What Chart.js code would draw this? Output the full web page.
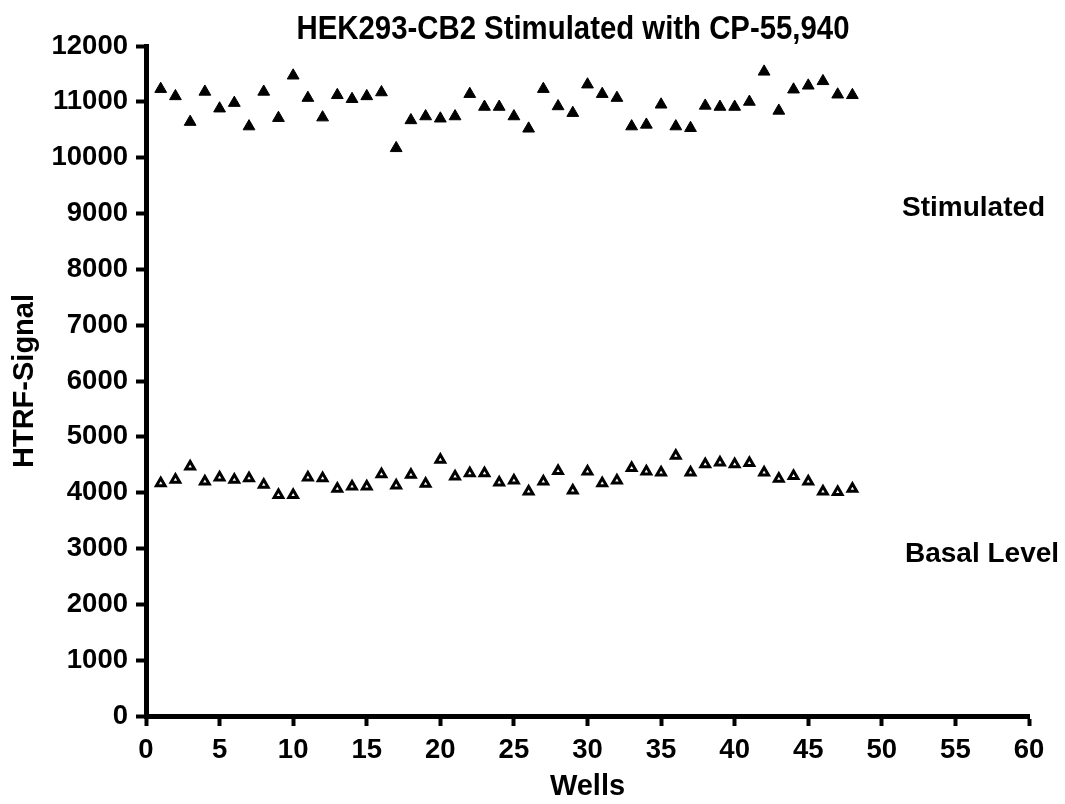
<!DOCTYPE html>
<html>
<head>
<meta charset="utf-8">
<script src="https://cdn.jsdelivr.net/npm/chart.js@4/dist/chart.umd.min.js"></script>
<style>
  html, body { margin: 0; padding: 0; background: #fff; }
</style>
</head>
<body>
<canvas id="chart" width="1065" height="804"></canvas>
<script>
const wells = [1, 2, 3, 4, 5, 6, 7, 8, 9, 10, 11, 12, 13, 14, 15, 16, 17, 18, 19, 20, 21, 22, 23, 24,
  25, 26, 27, 28, 29, 30, 31, 32, 33, 34, 35, 36, 37, 38, 39, 40, 41, 42, 43, 44, 45, 46, 47, 48];
const stimulated = [11230, 11100, 10640, 11180, 10880, 10980, 10560, 11180, 10710, 11470, 11070, 10720,
  11120, 11050, 11100, 11170, 10170, 10670, 10740, 10700, 10740, 11140, 10910, 10910,
  10740, 10520, 11230, 10920, 10800, 11310, 11140, 11070, 10560, 10590, 10950, 10560,
  10530, 10930, 10910, 10910, 11000, 11540, 10840, 11220, 11290, 11370, 11130, 11120];
const basal = [4170, 4230, 4470, 4200, 4270, 4230, 4260, 4140, 3960, 3960, 4270, 4260,
  4070, 4110, 4110, 4330, 4130, 4320, 4160, 4590, 4290, 4350, 4350, 4180,
  4220, 4020, 4200, 4390, 4040, 4380, 4170, 4220, 4440, 4380, 4360, 4660,
  4360, 4510, 4540, 4510, 4530, 4360, 4250, 4300, 4200, 4020, 4010, 4070];
const sideLabels = ["Stimulated", "Basal Level"];
const chartTitle = "HEK293-CB2 Stimulated with CP-55,940";

const toPoints = vals => vals.map((v, i) => ({ x: wells[i], y: v }));

// title is a condensed face in the original; squeeze the bold sans to the same width
const textPlugin = {
  id: "texts",
  afterDraw(chart) {
    const ctx = chart.ctx;
    ctx.save();
    ctx.fillStyle = "#000";
    ctx.textBaseline = "middle";
    ctx.textAlign = "center";
    ctx.font = 'bold 33px "Liberation Sans", Arial, sans-serif';
    const squeeze = 553 / ctx.measureText(chartTitle).width;
    ctx.save();
    ctx.translate(573, 30);
    ctx.scale(squeeze, 1);
    ctx.fillText(chartTitle, 0, 0);
    ctx.restore();
    ctx.textAlign = "left";
    ctx.font = 'bold 28px "Liberation Sans", Arial, sans-serif';
    ctx.fillText(sideLabels[0], 902, 208);
    ctx.fillText(sideLabels[1], 905, 554);
    ctx.restore();
  }
};

const axisFont = { family: '"Liberation Sans", Arial, sans-serif', size: 27.5, weight: "bold" };
const titleFont = { family: '"Liberation Sans", Arial, sans-serif', size: 29, weight: "bold" };
const gridOpts = { drawOnChartArea: false, drawTicks: true, tickLength: 10, tickWidth: 4, tickColor: "#000" };
const borderOpts = { display: true, width: 5, color: "#000" };

new Chart(document.getElementById("chart"), {
  type: "scatter",
  data: {
    datasets: [
      {
        label: "Stimulated",
        data: toPoints(stimulated),
        pointStyle: "triangle",
        pointRadius: 6.8,
        pointBackgroundColor: "#000",
        pointBorderColor: "#000",
        pointBorderWidth: 1
      },
      {
        label: "Basal Level",
        data: toPoints(basal),
        pointStyle: "triangle",
        pointRadius: 5,
        pointBackgroundColor: "#fff",
        pointBorderColor: "#000",
        pointBorderWidth: 3
      }
    ]
  },
  options: {
    responsive: false,
    animation: false,
    layout: { padding: { top: 46, right: 36, left: 0, bottom: 0 } },
    plugins: { legend: { display: false }, tooltip: { enabled: false }, title: { display: false } },
    scales: {
      x: {
        type: "linear",
        min: 0,
        max: 60,
        ticks: { stepSize: 5, color: "#000", font: axisFont, padding: 8, maxRotation: 0, callback: v => String(v) },
        grid: gridOpts,
        border: borderOpts,
        title: { display: true, text: "Wells", color: "#000", font: titleFont, padding: { top: 0, bottom: 0 } },
        afterFit(scale) { scale.height = 88; }
      },
      y: {
        min: 0,
        max: 12000,
        ticks: { stepSize: 1000, color: "#000", font: axisFont, padding: 8, callback: v => String(v) },
        grid: gridOpts,
        border: borderOpts,
        title: { display: true, text: "HTRF-Signal", color: "#000", font: titleFont, padding: { top: 8, bottom: 0 } },
        afterFit(scale) { scale.width = 146; }
      }
    }
  },
  plugins: [textPlugin]
});
</script>
</body>
</html>
